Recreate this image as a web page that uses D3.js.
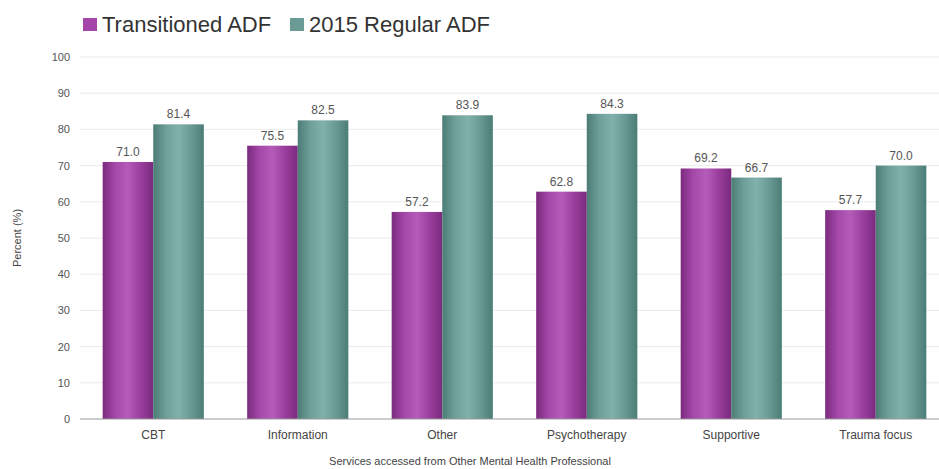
<!DOCTYPE html>
<html>
<head>
<meta charset="utf-8">
<script src="https://cdn.jsdelivr.net/npm/d3@7"></script>
<style>
  body { margin: 0; background: #fff; }
  text { font-family: "Liberation Sans", Arial, sans-serif; }
</style>
</head>
<body>
<div id="chart"></div>
<script>
var categories = ["CBT", "Information", "Other", "Psychotherapy", "Supportive", "Trauma focus"];
var seriesNames = ["Transitioned ADF", "2015 Regular ADF"];
var transitioned = [71.0, 75.5, 57.2, 62.8, 69.2, 57.7];
var regular = [81.4, 82.5, 83.9, 84.3, 66.7, 70.0];
var yTicks = [0, 10, 20, 30, 40, 50, 60, 70, 80, 90, 100];

var svgWidth = 939;
var svgHeight = 469;

var svg = d3.select("#chart")
  .append("svg")
  .attr("width", svgWidth)
  .attr("height", svgHeight);

// cylinder-ish shading on the bars
var defs = svg.append("defs");
var grads = [
  {id: "gPurple", stops: ["#7a2a7e", "#a548aa", "#b45cb8", "#9a3e9e", "#7a2a7e"]},
  {id: "gTeal", stops: ["#4b7c76", "#6e9f98", "#80b2ab", "#699a93", "#4b7c76"]}
];
grads.forEach(function(g) {
  var lg = defs.append("linearGradient")
    .attr("id", g.id)
    .attr("x1", "0%").attr("x2", "100%")
    .attr("y1", "0%").attr("y2", "0%");
  g.stops.forEach(function(c, i) {
    lg.append("stop")
      .attr("offset", (i / (g.stops.length - 1) * 100) + "%")
      .attr("stop-color", c);
  });
});
var fills = ["url(#gPurple)", "url(#gTeal)"];
var swatch = ["#a545aa", "#6a9c95"];

// scales (plot runs a bit past the right edge, like the original crop)
var x0 = d3.scaleBand()
  .domain(categories)
  .range([81, 948])
  .paddingInner(0.3)
  .paddingOuter(0.15);

var x1 = d3.scaleBand()
  .domain([0, 1])
  .range([0, x0.bandwidth()]);

var y = d3.scaleLinear()
  .domain([0, 100])
  .range([419, 57]);

// gridlines
svg.append("g")
  .selectAll("line")
  .data(yTicks.filter(function(d) { return d > 0; }))
  .enter()
  .append("line")
  .attr("x1", 80)
  .attr("x2", svgWidth)
  .attr("y1", function(d) { return y(d); })
  .attr("y2", function(d) { return y(d); })
  .attr("stroke", "#ebebeb")
  .attr("stroke-width", 1);

// y axis labels
var yAxis = d3.axisLeft(y).tickValues(yTicks).tickSize(0).tickPadding(10);
var gY = svg.append("g")
  .attr("transform", "translate(80,0)")
  .call(yAxis);
gY.select(".domain").remove();
gY.selectAll("text")
  .attr("fill", "#555")
  .style("font-size", "11px");

// bars
var rows = categories.map(function(c, i) {
  return {cat: c, vals: [transitioned[i], regular[i]]};
});

var groups = svg.append("g")
  .selectAll("g")
  .data(rows)
  .enter()
  .append("g")
  .attr("transform", function(d) { return "translate(" + x0(d.cat) + ",0)"; });

groups.selectAll("rect")
  .data(function(d) { return d.vals.map(function(v, k) { return {k: k, v: v}; }); })
  .enter()
  .append("rect")
  .attr("x", function(d) { return x1(d.k); })
  .attr("width", x1.bandwidth())
  .attr("y", function(d) { return y(d.v); })
  .attr("height", function(d) { return y(0) - y(d.v); })
  .attr("fill", function(d) { return fills[d.k]; });

groups.selectAll("text")
  .data(function(d) { return d.vals.map(function(v, k) { return {k: k, v: v}; }); })
  .enter()
  .append("text")
  .attr("x", function(d) { return x1(d.k) + x1.bandwidth() / 2; })
  .attr("y", function(d) { return y(d.v) - 6; })
  .attr("text-anchor", "middle")
  .attr("fill", "#555")
  .style("font-size", "12px")
  .text(function(d) { return d.v.toFixed(1); });

// x axis
var xAxis = d3.axisBottom(x0).tickSize(0).tickPadding(11);
var gX = svg.append("g")
  .attr("transform", "translate(0," + y(0) + ")")
  .call(xAxis);
gX.select(".domain").remove();
gX.selectAll("text")
  .attr("fill", "#444")
  .style("font-size", "12px");
svg.append("line")
  .attr("x1", 80).attr("x2", svgWidth)
  .attr("y1", y(0)).attr("y2", y(0))
  .attr("stroke", "#999");

// axis titles
svg.append("text")
  .attr("x", 470)
  .attr("y", 465)
  .attr("text-anchor", "middle")
  .attr("fill", "#444")
  .style("font-size", "11px")
  .text("Services accessed from Other Mental Health Professional");

svg.append("text")
  .attr("transform", "translate(21," + ((y(0) + y(100)) / 2) + ") rotate(-90)")
  .attr("text-anchor", "middle")
  .attr("fill", "#444")
  .style("font-size", "11px")
  .text("Percent (%)");

// legend
var legendX = [83, 290];
var legend = svg.append("g")
  .selectAll("g")
  .data(seriesNames)
  .enter()
  .append("g")
  .attr("transform", function(d, i) { return "translate(" + legendX[i] + ",18)"; });

legend.append("rect")
  .attr("width", 14)
  .attr("height", 13)
  .attr("fill", function(d, i) { return swatch[i]; });

legend.append("text")
  .attr("x", 19)
  .attr("y", 14)
  .attr("fill", "#333")
  .style("font-size", "22px")
  .text(function(d) { return d; });
</script>
</body>
</html>
